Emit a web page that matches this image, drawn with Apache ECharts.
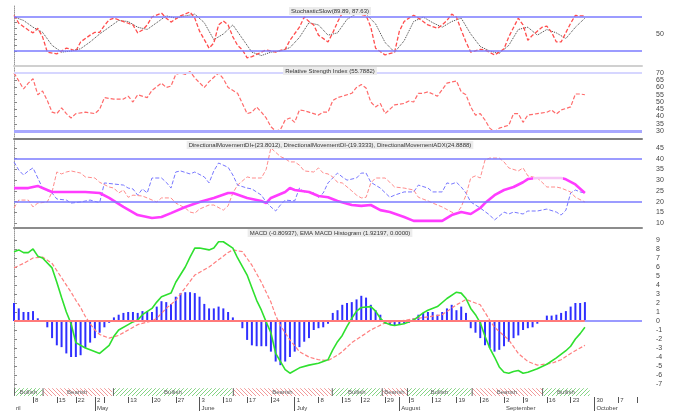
<!DOCTYPE html>
<html><head><meta charset="utf-8">
<script src="https://cdn.jsdelivr.net/npm/echarts@6/dist/echarts.min.js"></script>
<style>html,body{margin:0;padding:0;background:#fff}#c{width:680px;height:411px}</style>
</head><body><div id="c"></div>
<script>
// ---- data (x = trading-day slot, y = indicator value) ----
const stochK = [[0,83],[1,69],[3,57],[4,52],[5,60],[6,45],[7,18],[9,15],[10,20],[11,25],[12,23],[13,20],[14,36],[16,48],[17,53],[18,53],[19,65],[20,75],[21,78],[24,69],[25,66],[26,52],[27,57],[28,66],[29,80],[31,87],[32,78],[33,71],[35,82],[37,89],[38,78],[39,55],[41,25],[42,34],[43,66],[44,73],[45,66],[46,45],[47,30],[48,22],[49,8],[50,10],[52,18],[53,22],[55,18],[56,21],[57,23],[58,39],[60,62],[61,80],[62,72],[63,66],[64,48],[66,36],[67,52],[68,71],[69,87],[71,88],[72,86],[74,83],[75,62],[76,25],[78,13],[80,18],[81,55],[82,72],[83,78],[84,83],[85,78],[87,66],[89,60],[90,66],[91,74],[92,85],[93,80],[94,57],[95,36],[96,18],[98,23],[99,22],[101,13],[102,18],[103,24],[104,45],[106,78],[107,66],[108,39],[109,48],[110,55],[111,62],[112,64],[113,53],[114,36],[115,36],[117,69],[118,83],[119,82],[120,82]];
const stochD = [[0,80],[2,74],[4,62],[6,53],[8,30],[10,18],[12,20],[14,24],[16,36],[18,50],[20,62],[22,74],[24,72],[26,62],[28,58],[30,70],[32,82],[34,78],[36,82],[38,85],[40,70],[42,40],[44,50],[46,66],[48,42],[50,18],[52,12],[54,18],[56,20],[58,26],[60,44],[62,70],[64,66],[66,48],[68,52],[70,76],[72,86],[74,85],[76,68],[78,35],[80,18],[82,38],[84,72],[86,80],[88,70],[90,62],[92,72],[94,78],[96,50],[98,28],[100,20],[102,16],[104,30],[106,58],[108,62],[110,48],[112,58],[114,52],[116,42],[118,62],[120,78]];
const rsi = [[0,70],[2,59],[3,63],[4,66],[5,55],[6,57.6],[7,51],[8,43],[9,42],[10,46],[11,42],[12,39],[13,42],[15,43],[17,42],[18,45],[19,53],[21,52],[23,52],[24,54],[25,50],[26,55],[28,53],[29,58],[31,63],[32,60],[33,61],[34,69],[35,70],[36,69],[37,71],[38,66.6],[40,60],[41,64],[43,70],[44,66],[45,60],[47,56],[48,49],[49,42],[50,43],[51,46.5],[52,43],[53,39],[54,33],[55,30],[56,31],[57,37.6],[58,39],[59,36],[60,44.5],[61,44],[62,43],[64,41],[65,43],[66,43],[67,51],[68,53],[71,56],[72,60],[73,62],[74,59.6],[75,50],[76,46.6],[77,49],[78,42],[80,48],[82,49],[83,50.7],[84,50],[85,56],[86,56],[87,57],[89,54],[91,63],[93,64.5],[94,57],[95,55],[96,46.6],[97,41],[98,42],[99,37.6],[100,32],[101,29.4],[102,32],[103,33],[104,34],[105,42],[106,42],[107,36],[108,41],[110,42],[112,43],[113,44.5],[114,41.7],[115,44.5],[117,46.6],[118,55.5],[119,55.5],[120,55]];
const diPlus = [[0,38.5],[1,34.7],[2,32.4],[3,34.3],[4,35.7],[5,31],[6,26.3],[8,24],[9,21.2],[11,20.7],[12,19.3],[14,19.8],[16,20.7],[18,19.5],[19,28.7],[21,28.2],[23,27.7],[24,26.3],[25,25.9],[26,23],[27,25.9],[28,24],[29,31],[31,31],[32,29],[33,26.3],[34,33.8],[35,34.3],[37,32.9],[38,33.8],[40,31.5],[41,28.7],[42,34.3],[43,38],[45,36],[46,32.4],[47,27.7],[49,26.3],[50,25.9],[52,23],[53,19.8],[54,17.5],[55,15.6],[56,18.4],[57,20.7],[59,20.3],[60,26.3],[61,24.5],[62,24.5],[63,24],[64,22],[65,24],[66,28.7],[67,31],[68,33.3],[69,31.5],[70,30],[72,31],[73,33.3],[74,33.3],[75,29],[77,26.3],[79,22],[80,23],[82,24.5],[84,24.5],[85,27.7],[87,26.3],[88,24.5],[90,24.5],[91,28.7],[92,28.2],[93,29],[94,26.8],[95,24],[96,19.8],[98,17],[100,13.7],[101,11.4],[103,15.1],[104,14.2],[105,15.1],[107,14.2],[108,15.6],[110,15.6],[112,16.5],[114,15.1],[115,13.7],[116,16],[117,24],[118,25.4],[119,24.5],[120,24]];
const diMinus = [[0,17],[1,20.7],[3,20.7],[4,17.5],[5,19.3],[7,19.8],[8,24.5],[9,33.8],[10,32.9],[11,33.8],[12,34.3],[14,33.3],[15,31.5],[17,31],[18,29],[20,26.8],[21,26.3],[22,24],[23,25.4],[24,22],[25,23],[27,22.6],[28,21.7],[30,19.8],[31,21.7],[33,21.7],[34,19.3],[36,17],[37,15.1],[38,14.6],[39,16.5],[41,18.4],[42,18.4],[44,16],[45,18],[46,24],[47,27.7],[49,31.5],[50,31],[52,31],[53,35],[54,45],[55,43],[56,41],[57,40],[58,38.5],[59,38.5],[60,37],[61,34.3],[63,33.8],[64,35.7],[65,33.3],[66,32.9],[67,31.5],[68,29],[69,28.7],[71,25],[72,23],[73,21.7],[74,22],[75,28.7],[76,31],[78,31],[79,29],[80,26.8],[82,26.3],[84,25.4],[85,22],[87,20.3],[88,19.3],[90,17.5],[92,15.1],[93,14.2],[94,17.5],[95,23],[96,31],[97,32],[98,31],[99,39.4],[100,40.3],[102,40.3],[103,38.5],[104,35.7],[106,34.3],[107,35.7],[108,32],[110,31],[111,29],[112,26.8],[114,26.8],[115,26.3],[117,24.5],[118,22],[120,19.8]];
const adx = [[0,26.3],[3,26.3],[5,27.3],[6,26.3],[8,24.5],[11,24.5],[15,24.5],[18,24],[20,21.7],[23,17.5],[26,13.7],[29,12.3],[31,12.8],[33,14.6],[36,17.5],[39,19.8],[42,21.7],[45,24],[46,24],[49,21.7],[52,20.3],[53,19.3],[54,21.7],[57,24.5],[58,26.3],[59,25.4],[62,24.5],[64,22.6],[66,22],[68,20.3],[71,18.4],[73,18],[75,18.4],[77,16],[79,15.1],[82,12.8],[84,11],[87,11],[90,11],[92,13.7],[94,15.1],[96,14.2],[98,17],[99,19.3],[101,23],[103,25.4],[105,26.8],[107,29],[108,30.5],[110,31],[113,31],[115,31],[116,30.4],[118,28],[120,24]];
const macd = [[0,7.7],[1,7.9],[2,7.6],[3,7.6],[4,8.0],[5,7.2],[6,7.0],[8,5.9],[9,4.3],[10,2.6],[11,1.0],[12,-0.3],[13,-2.4],[15,-3.0],[16,-3.2],[18,-3.6],[20,-2.7],[21,-1.7],[22,-1.0],[24,-0.4],[25,-0.1],[26,0.1],[27,0.7],[29,1.4],[30,2.1],[31,2.7],[33,3.1],[34,4.3],[36,6.0],[37,7.1],[38,8.1],[39,8.1],[41,7.9],[42,8.1],[43,8.8],[44,8.8],[46,8.1],[47,7.0],[49,5.1],[50,3.7],[51,2.3],[52,1.2],[53,-0.1],[54,-1.3],[55,-3.6],[57,-5.4],[58,-5.8],[60,-5.2],[62,-4.9],[64,-4.7],[66,-4.3],[67,-3.2],[68,-2.3],[69,-1.6],[70,-0.6],[71,0.3],[72,1.1],[73,1.5],[75,1.6],[76,1.1],[77,0.3],[78,-0.2],[79,-0.4],[80,-0.5],[82,-0.3],[84,0.1],[86,0.9],[87,1.2],[89,1.6],[91,2.5],[93,3.2],[94,3.1],[95,2.5],[96,1.4],[97,0.7],[98,-0.2],[99,-1.7],[100,-3.0],[101,-4.0],[102,-5.1],[103,-5.7],[104,-5.8],[105,-5.6],[106,-5.5],[107,-5.8],[108,-5.7],[110,-5.3],[112,-4.8],[114,-4.1],[116,-3.3],[117,-2.8],[118,-2.0],[119,-1.4],[120,-0.7]];
const signalLine = [[0,5.9],[2,6.4],[4,7.0],[6,7.1],[8,6.4],[10,4.8],[12,3.2],[13,2.3],[14,1.5],[15,0.5],[16,-0.3],[17,-1.0],[18,-1.5],[20,-1.9],[22,-1.6],[24,-1.0],[26,-0.4],[29,0.0],[30,0.3],[32,1.4],[34,2.3],[36,3.7],[38,5.1],[41,6.0],[43,6.8],[45,7.6],[46,7.9],[48,7.7],[50,6.2],[52,4.3],[54,2.1],[55,0.6],[56,-0.5],[57,-1.3],[58,-2.1],[60,-3.4],[62,-4.0],[64,-4.3],[66,-4.4],[68,-3.8],[69,-3.4],[71,-2.4],[75,-1.0],[78,-0.2],[81,0.0],[85,0.3],[90,0.7],[93,1.8],[95,2.4],[98,1.8],[100,0.1],[101,-0.7],[104,-2.1],[106,-3.6],[108,-4.5],[110,-4.9],[113,-4.7],[115,-4.3],[117,-3.6],[120,-2.7]];
const histogram = [2.0,1.4,1.0,1.0,1.1,0.3,-0.1,-0.7,-1.9,-2.7,-2.9,-3.6,-4.0,-4.0,-3.8,-3.0,-2.4,-1.9,-1.3,-0.7,-0.2,0.4,0.7,0.9,1.0,1.0,0.9,1.1,1.1,1.0,1.6,2.2,2.1,1.9,2.7,3.1,3.2,3.2,3.1,2.7,1.9,1.4,1.4,1.6,1.4,1.0,0.4,-0.1,-0.8,-2.1,-2.7,-2.8,-2.8,-2.8,-3.4,-4.5,-4.9,-4.5,-4.0,-3.4,-2.9,-2.3,-1.9,-1.0,-0.8,-0.7,-0.3,0.9,1.2,1.8,2.0,2.1,2.4,2.8,2.6,1.8,1.2,0.7,-0.3,-0.4,-0.5,-0.4,-0.3,-0.2,0.3,0.7,0.9,1.0,1.0,0.7,1.0,1.4,1.8,1.2,1.6,0.9,-0.8,-1.3,-1.9,-2.7,-3.0,-3.4,-3.2,-2.8,-2.3,-1.9,-1.6,-1.0,-0.8,-0.7,-0.3,0.1,0.6,0.6,0.7,0.9,1.1,1.6,2.0,2.0,2.1];
const signals = [[0,6,'Bullish'],[6,20.6,'Bearish'],[20.8,46,'Bullish'],[46,66.8,'Bearish'],[66.8,77.3,'Bullish'],[77.3,82.6,'Bearish'],[82.6,96.2,'Bullish'],[96.2,111,'Bearish'],[111,121,'Bullish']];
const dayTicks = [[4,'8'],[9,'15'],[13,'22'],[17,'2'],[19,''],[24,'13'],[29,'20'],[34,'27'],[39,'3'],[44,'10'],[49,'17'],[54,'24'],[59,'1'],[64,'8'],[69,'15'],[73,'22'],[78,'29'],[83,'5'],[88,'12'],[93,'19'],[98,'26'],[103,'2'],[107,'9'],[112,'16'],[117,'23'],[122,'30'],[127,'7'],[131,'']];
const monthTicks = [[0,'ril',false],[17,'May',true],[39,'June',true],[59,'July',true],[81,'August',true],[103,'September',false],[122,'October',true]];
const titles = ['StochasticSlow(89.89, 87.63)','Relative Strength Index (55.7882)','DirectionalMovementDI+(23.8012), DirectionalMovementDI-(19.3333), DirectionalMovementADX(24.8888)','MACD (-0.80937), EMA MACD Histogram (1.92197, 0.0000)'];
const stochLabels = [50], stochTicks = [20,30,40,50,60,70,80];
const rsiLabels = [30,35,40,45,50,55,60,65,70];
const dmiLabels = [10,15,20,25,30,35,40,45];
const macdLabels = [-7,-6,-5,-4,-3,-2,-1,0,1,2,3,4,5,6,7,8,9];
const SLOTS = 133;

// ---- chart ----
const FONT = 'Liberation Sans';
const cats = Array.from({length: SLOTS}, (_, i) => String(i));
const dayMap = new Map(dayTicks.map(d => [d[0], d[1]]));
const monthMap = new Map(monthTicks.map(d => [d[0], d[1]]));
const monthTickSet = new Set(monthTicks.filter(d => d[2]).map(d => d[0]));

function pattern(color, dir) {
  const c = document.createElement('canvas'); c.width = 4; c.height = 4;
  const g = c.getContext('2d'); g.fillStyle = '#fff'; g.fillRect(0, 0, 4, 4);
  g.strokeStyle = color; g.lineWidth = 1; g.beginPath();
  if (dir > 0) { g.moveTo(0,4); g.lineTo(4,0); g.moveTo(-1,1); g.lineTo(1,-1); g.moveTo(3,5); g.lineTo(5,3); }
  else { g.moveTo(0,0); g.lineTo(4,4); g.moveTo(3,-1); g.lineTo(5,1); g.moveTo(-1,3); g.lineTo(1,5); }
  g.stroke(); return c;
}
const patBull = pattern('#86d486', 1), patBear = pattern('#f29a9a', -1);

const grid = [
  {left:14, right:38, top:5, height:60},
  {left:14, right:38, top:66, height:71},
  {left:14, right:38, top:139, height:89},
  {left:14, right:38, top:228, height:160},
  {left:14, right:38, top:388, height:9}
];
const sepColors = [null, '#d0d0d0', '#808080', '#8c8c8c'];
const xAxis = [0,1,2,3].map(i => ({
  type:'value', gridIndex:i, min:0, max:SLOTS-1, position:'top',
  axisLine:{show: i > 0, onZero:false, lineStyle:{color: sepColors[i] || '#ccc', width:2}},
  axisTick:{show:false}, axisLabel:{show:false}, splitLine:{show:false}
}));
xAxis.push({type:'value', gridIndex:4, min:0, max:SLOTS-1, position:'top', show:false});
xAxis.push({type:'category', gridIndex:4, data:cats, boundaryGap:false, position:'bottom',
  axisLine:{show:false},
  axisTick:{show:true, interval:(i) => dayMap.has(i), length:6, lineStyle:{color:'#555', width:1}},
  axisLabel:{show:true, interval:(i) => dayMap.has(i), formatter:(v, i) => dayMap.get(i) || '',
    align:'left', margin:0, padding:[0,0,0,2], fontSize:6, color:'#444', fontFamily:FONT}
});
xAxis.push({type:'category', gridIndex:4, data:cats, boundaryGap:false, position:'bottom',
  axisLine:{show:false},
  axisTick:{show:true, interval:(i) => monthTickSet.has(i), length:14, lineStyle:{color:'#555', width:1}},
  axisLabel:{show:true, interval:(i) => monthMap.has(i), formatter:(v, i) => monthMap.get(i) || '',
    align:'left', margin:8, padding:[0,0,0,2], fontSize:6, color:'#444', fontFamily:FONT}
});

function yAx(i, min, max, labels, ticks) {
  return {type:'value', gridIndex:i, min, max, position:'right',
    axisLine:{show:true, lineStyle:{color:'#999', type:'dotted'}},
    axisTick:{show:true, customValues: ticks || labels, length:3, lineStyle:{color:'#888'}},
    axisLabel:{show:true, customValues: labels, margin:14, fontSize:7, color:'#444', fontFamily:FONT, align:'left'},
    splitLine:{show:false}};
}
const yAxis = [
  yAx(0, -4.7, 101.2, stochLabels, stochTicks),
  yAx(1, 25.9, 74.8, rsiLabels),
  yAx(2, 7.67, 49.2, dmiLabels),
  yAx(3, -7.44, 10.33, macdLabels),
  {type:'value', gridIndex:4, min:0, max:1, show:false}
];

function hLines(vals, color, width) {
  return {symbol:['none','none'], silent:true, animation:false, label:{show:false},
    lineStyle:{color, width, type:'solid'}, data: vals.map(v => ({yAxis:v}))};
}
const lineBase = {type:'line', showSymbol:false, symbol:'none', animation:false, silent:true};

const series = [
  Object.assign({}, lineBase, {name:'%D', xAxisIndex:0, yAxisIndex:0, data:stochD,
    lineStyle:{color:'#444', width:1, type:'dotted'}, markLine: hLines([80,20], '#7b7bff', 1.5)}),
  Object.assign({}, lineBase, {name:'%K', xAxisIndex:0, yAxisIndex:0, data:stochK,
    lineStyle:{color:'#ff4d4d', width:1.3, type:[4,2]}}),
  Object.assign({}, lineBase, {name:'RSI', xAxisIndex:1, yAxisIndex:1, data:rsi,
    lineStyle:{color:'#ff6a6a', width:1.2, type:[4,2]},
    markLine:{symbol:['none','none'], silent:true, animation:false, label:{show:false},
      data:[{yAxis:70, lineStyle:{color:'#d6d6ff', width:2, type:'solid'}},
            {yAxis:30, lineStyle:{color:'#a8a8ff', width:3, type:'solid'}}]}}),
  Object.assign({}, lineBase, {name:'DI+', xAxisIndex:2, yAxisIndex:2, data:diPlus,
    lineStyle:{color:'#7777ff', width:1, type:[4,2]}, markLine: hLines([40,20], '#7b7bff', 1.5)}),
  Object.assign({}, lineBase, {name:'DI-', xAxisIndex:2, yAxisIndex:2, data:diMinus,
    lineStyle:{color:'#ff8c8c', width:1, type:[4,2]}}),
  Object.assign({}, lineBase, {name:'ADX', xAxisIndex:2, yAxisIndex:2, data:adx,
    lineStyle:{width:2.6}}),
  {type:'bar', name:'Histogram', xAxisIndex:3, yAxisIndex:3, animation:false, silent:true,
    data: histogram.map((v, i) => [i, v]), barWidth:2, itemStyle:{color:'#2f2fff'},
    markLine:{symbol:['none','none'], silent:true, animation:false, label:{show:false},
      data:[
        [{coord:[0,0], lineStyle:{color:'#ff7a7a', width:2, type:'solid'}}, {coord:[histogram.length-1,0]}],
        [{coord:[histogram.length-1,0], lineStyle:{color:'#9a9aff', width:2, type:'solid'}}, {coord:[SLOTS-1,0]}]
      ]}},
  Object.assign({}, lineBase, {name:'Signal', xAxisIndex:3, yAxisIndex:3, data:signalLine,
    lineStyle:{color:'#ff7f7f', width:1.2, type:[4,2]}}),
  Object.assign({}, lineBase, {name:'MACD', xAxisIndex:3, yAxisIndex:3, data:macd,
    lineStyle:{color:'#2fe02f', width:1.6}}),
  {type:'custom', name:'Signals', xAxisIndex:4, yAxisIndex:4, animation:false, silent:true,
    data: signals.map(s => [s[0], s[1]]), encode:{x:[0,1]},
    renderItem:(params, api) => {
      const lab = signals[params.dataIndex][2];
      const a = api.coord([api.value(0), 0.98]), b = api.coord([api.value(1), 0.12]);
      const bull = lab === 'Bullish';
      return {type:'group', children:[
        {type:'rect', shape:{x:a[0], y:a[1], width:b[0]-a[0], height:b[1]-a[1]},
          style:{fill:{image: bull ? patBull : patBear, repeat:'repeat'}}},
        {type:'line', shape:{x1:a[0]+0.5, y1:a[1], x2:a[0]+0.5, y2:b[1]}, style:{stroke:'#666', lineWidth:1}},
        {type:'text', x:(a[0]+b[0])/2, y:(a[1]+b[1])/2,
          style:{text:lab, align:'center', verticalAlign:'middle', fontSize:6, fontFamily:FONT, fill:'#666'}}
      ]};
    }}
];

const titleTops = [7, 67, 141, 229];
const option = {
  backgroundColor:'#fff', animation:false,
  title: titles.map((t, i) => ({text:t, left:328, top:titleTops[i], textAlign:'center',
    backgroundColor:'#ececec', padding:[1,2],
    textStyle:{fontSize:6, fontWeight:'normal', color:'#333', fontFamily:FONT}})),
  grid, xAxis, yAxis, series,
  visualMap:[{type:'piecewise', show:false, seriesIndex:5, dimension:0,
    pieces:[{lt:109, color:'#ff3cff'}, {gte:109, lt:115.5, color:'#f6c8f6'}, {gte:115.5, color:'#ff3cff'}]}]
};
const chart = echarts.init(document.getElementById('c'), null, {renderer:'canvas'});
chart.setOption(option);
</script>
</body></html>
